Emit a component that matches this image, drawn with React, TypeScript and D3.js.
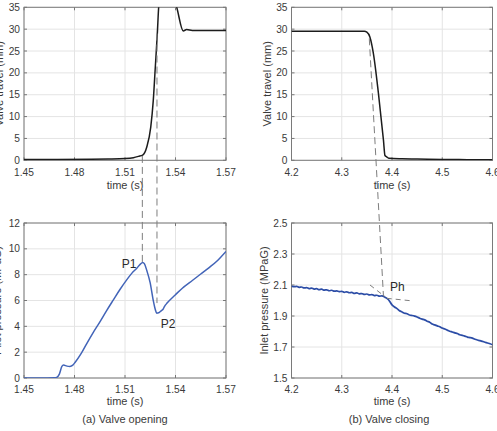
import React, { useEffect, useRef } from 'react';
import * as d3 from 'd3';

// tick values
const openTicksX = [1.45, 1.48, 1.51, 1.54, 1.57];
const closeTicksX = [4.2, 4.3, 4.4, 4.5, 4.6];
const travelTicksY = [0, 5, 10, 15, 20, 25, 30, 35];
const pilotTicksY = [0, 2, 4, 6, 8, 10, 12];
const inletTicksY = [1.5, 1.7, 1.9, 2.1, 2.3, 2.5];

// (a) valve opening: travel (mm)
const openTravelTime = [1.45, 1.47, 1.49, 1.5, 1.51, 1.515, 1.518, 1.5205, 1.5229, 1.5253, 1.5268, 1.528, 1.5292, 1.53, 1.5305, 1.535, 1.5407, 1.5446, 1.5466, 1.55, 1.57];
const openTravel = [0.2, 0.2, 0.25, 0.3, 0.4, 0.6, 0.9, 1.2, 3.0, 7.6, 13.7, 21.3, 29.0, 35, 37, 41, 35, 29.6, 29.9, 29.7, 29.7];

// (a) valve opening: pilot pressure (MPaG)
const openPressTime = [1.45, 1.46, 1.468, 1.4694, 1.471, 1.4725, 1.4735, 1.4755, 1.4773, 1.479, 1.4803, 1.484, 1.4872, 1.491, 1.4951, 1.499, 1.5031, 1.507, 1.511, 1.514, 1.517, 1.519, 1.5205, 1.5215, 1.523, 1.5249, 1.5268, 1.528, 1.5288, 1.53, 1.5315, 1.5325, 1.5335, 1.535, 1.54, 1.545, 1.55, 1.555, 1.56, 1.565, 1.57];
const pilotPressure = [0, 0, 0.02, 0.05, 0.3, 0.9, 1.0, 0.92, 0.9, 1.0, 1.2, 1.9, 2.65, 3.5, 4.35, 5.2, 6.05, 6.85, 7.6, 8.1, 8.5, 8.8, 8.95, 8.85, 8.3, 7.4, 6.0, 5.3, 5.02, 5.05, 5.2, 5.3, 5.55, 5.8, 6.45, 7.05, 7.55, 8.05, 8.55, 9.1, 9.8];

// (b) valve closing: travel (mm)
const closeTravelTime = [4.2, 4.3, 4.345, 4.35, 4.356, 4.363, 4.373, 4.383, 4.386, 4.39, 4.394, 4.42, 4.45, 4.5, 4.55, 4.6];
const closeTravel = [29.5, 29.5, 29.5, 29.3, 28.2, 24.4, 15.3, 4.6, 1.1, 0.75, 0.45, 0.35, 0.3, 0.2, 0.15, 0.1];

// (b) valve closing: inlet pressure (MPaG)
const closePressTime = [4.2, 4.205, 4.21, 4.215, 4.22, 4.225, 4.23, 4.235, 4.24, 4.245, 4.25, 4.255, 4.26, 4.265, 4.27, 4.275, 4.28, 4.285, 4.29, 4.295, 4.3, 4.305, 4.31, 4.315, 4.32, 4.325, 4.33, 4.335, 4.34, 4.345, 4.35, 4.355, 4.36, 4.365, 4.37, 4.375, 4.38, 4.386, 4.393, 4.4, 4.405, 4.41, 4.415, 4.42, 4.425, 4.43, 4.435, 4.44, 4.445, 4.45, 4.455, 4.46, 4.465, 4.47, 4.475, 4.48, 4.485, 4.49, 4.495, 4.5, 4.505, 4.51, 4.515, 4.52, 4.525, 4.53, 4.535, 4.54, 4.545, 4.55, 4.555, 4.56, 4.565, 4.57, 4.575, 4.58, 4.585, 4.59, 4.595, 4.6];
const inletPressure = [2.094, 2.089, 2.091, 2.085, 2.087, 2.081, 2.083, 2.077, 2.080, 2.074, 2.076, 2.070, 2.073, 2.067, 2.069, 2.063, 2.066, 2.060, 2.062, 2.057, 2.059, 2.053, 2.056, 2.050, 2.052, 2.046, 2.049, 2.043, 2.045, 2.039, 2.042, 2.036, 2.038, 2.032, 2.034, 2.028, 2.030, 2.021, 2.005, 1.972, 1.958, 1.948, 1.934, 1.926, 1.918, 1.915, 1.906, 1.903, 1.899, 1.893, 1.886, 1.880, 1.875, 1.866, 1.860, 1.848, 1.843, 1.836, 1.831, 1.822, 1.816, 1.809, 1.802, 1.797, 1.791, 1.787, 1.779, 1.775, 1.770, 1.764, 1.761, 1.757, 1.750, 1.745, 1.741, 1.736, 1.731, 1.726, 1.721, 1.715];

const font = '"Liberation Sans", Arial, sans-serif';
const textColor = '#3a3a3a';

interface Panel {
  key: string;
  left: number; right: number; top: number; bottom: number;
  xDomain: [number, number]; yDomain: [number, number];
  xTicks: number[]; yTicks: number[];
  yLabel: string; yLabelX: number;
  tickDy: number; xLabelY: number;
  xs: number[]; ys: number[];
  color: string; width: number;
}

const App: React.FC = () => {
  const ref = useRef<SVGSVGElement>(null);

  useEffect(() => {
    if (!ref.current) return;
    const svg = d3.select(ref.current);
    svg.selectAll('*').remove();

    const panels: Panel[] = [
      { key: 'a1', left: 24, right: 226, top: 7.3, bottom: 160.3, xDomain: [1.45, 1.57], yDomain: [0, 35],
        xTicks: openTicksX, yTicks: travelTicksY, yLabel: 'Valve travel (mm)', yLabelX: -1,
        tickDy: 12.5, xLabelY: 185, xs: openTravelTime, ys: openTravel, color: '#1c1c1c', width: 1.5 },
      { key: 'b1', left: 291.5, right: 492.5, top: 7.3, bottom: 160.3, xDomain: [4.2, 4.6], yDomain: [0, 35],
        xTicks: closeTicksX, yTicks: travelTicksY, yLabel: 'Valve travel (mm)', yLabelX: 267,
        tickDy: 12.5, xLabelY: 185, xs: closeTravelTime, ys: closeTravel, color: '#1c1c1c', width: 1.5 },
      { key: 'a2', left: 24, right: 226, top: 223, bottom: 378, xDomain: [1.45, 1.57], yDomain: [0, 12],
        xTicks: openTicksX, yTicks: pilotTicksY, yLabel: 'Pilot pressure (MPaG)', yLabelX: -3,
        tickDy: 11.5, xLabelY: 401, xs: openPressTime, ys: pilotPressure, color: '#4264b8', width: 1.5 },
      { key: 'b2', left: 291.5, right: 492.5, top: 223, bottom: 378, xDomain: [4.2, 4.6], yDomain: [1.5, 2.5],
        xTicks: closeTicksX, yTicks: inletTicksY, yLabel: 'Inlet pressure (MPaG)', yLabelX: 264,
        tickDy: 11.5, xLabelY: 401, xs: closePressTime, ys: inletPressure, color: '#2b4ca6', width: 1.7 },
    ];

    const scales: Record<string, { x: d3.ScaleLinear<number, number>, y: d3.ScaleLinear<number, number> }> = {};
    const defs = svg.append('defs');

    panels.forEach(p => {
      const x = d3.scaleLinear().domain(p.xDomain).range([p.left, p.right]);
      const y = d3.scaleLinear().domain(p.yDomain).range([p.bottom, p.top]);
      scales[p.key] = { x, y };
      const g = svg.append('g');

      defs.append('clipPath').attr('id', `clip-${p.key}`)
        .append('rect')
        .attr('x', p.left).attr('y', p.top)
        .attr('width', p.right - p.left).attr('height', p.bottom - p.top);

      g.append('rect')
        .attr('x', p.left).attr('y', p.top)
        .attr('width', p.right - p.left).attr('height', p.bottom - p.top)
        .attr('fill', '#fff');

      // grid
      g.selectAll('.gx').data(p.xTicks).enter().append('line')
        .attr('x1', d => x(d)).attr('x2', d => x(d))
        .attr('y1', p.top).attr('y2', p.bottom)
        .attr('stroke', '#e4e4e4').attr('stroke-width', 1);
      g.selectAll('.gy').data(p.yTicks).enter().append('line')
        .attr('x1', p.left).attr('x2', p.right)
        .attr('y1', d => y(d)).attr('y2', d => y(d))
        .attr('stroke', '#e4e4e4').attr('stroke-width', 1);

      // inward ticks on all four sides
      const tk = 3;
      p.xTicks.forEach(d => {
        g.append('line').attr('x1', x(d)).attr('x2', x(d)).attr('y1', p.bottom).attr('y2', p.bottom - tk)
          .attr('stroke', '#777');
        g.append('line').attr('x1', x(d)).attr('x2', x(d)).attr('y1', p.top).attr('y2', p.top + tk)
          .attr('stroke', '#777');
      });
      p.yTicks.forEach(d => {
        g.append('line').attr('x1', p.left).attr('x2', p.left + tk).attr('y1', y(d)).attr('y2', y(d))
          .attr('stroke', '#777');
        g.append('line').attr('x1', p.right).attr('x2', p.right - tk).attr('y1', y(d)).attr('y2', y(d))
          .attr('stroke', '#777');
      });

      g.append('rect')
        .attr('x', p.left).attr('y', p.top)
        .attr('width', p.right - p.left).attr('height', p.bottom - p.top)
        .attr('fill', 'none').attr('stroke', '#7a7a7a').attr('stroke-width', 1);

      // tick labels
      g.selectAll('.tx').data(p.xTicks).enter().append('text')
        .attr('x', d => x(d)).attr('y', p.bottom + p.tickDy)
        .attr('text-anchor', 'middle').attr('dominant-baseline', 'central')
        .attr('font-family', font).attr('font-size', 10.2).attr('fill', textColor)
        .text(d => String(d));
      g.selectAll('.ty').data(p.yTicks).enter().append('text')
        .attr('x', p.left - 4).attr('y', d => y(d))
        .attr('text-anchor', 'end').attr('dominant-baseline', 'central')
        .attr('font-family', font).attr('font-size', 10.2).attr('fill', textColor)
        .text(d => String(d));

      g.append('text')
        .attr('x', (p.left + p.right) / 2).attr('y', p.xLabelY)
        .attr('text-anchor', 'middle').attr('dominant-baseline', 'central')
        .attr('font-family', font).attr('font-size', 11).attr('fill', textColor)
        .text('time (s)');

      g.append('text')
        .attr('transform', `translate(${p.yLabelX},${(p.top + p.bottom) / 2}) rotate(-90)`)
        .attr('text-anchor', 'middle').attr('dominant-baseline', 'central')
        .attr('font-family', font).attr('font-size', 11).attr('fill', textColor)
        .text(p.yLabel);

      const line = d3.line<number>()
        .x((_, i) => x(p.xs[i]))
        .y(d => y(d))
        .curve(d3.curveMonotoneX);

      g.append('path')
        .datum(p.ys)
        .attr('clip-path', `url(#clip-${p.key})`)
        .attr('d', line)
        .attr('fill', 'none')
        .attr('stroke', p.color)
        .attr('stroke-width', p.width)
        .attr('stroke-linejoin', 'round');
    });

    // dashed guide lines linking travel and pressure events
    const dash = svg.append('g')
      .attr('fill', 'none').attr('stroke', '#7d7d7d')
      .attr('stroke-width', 1).attr('stroke-dasharray', '7,4');
    const a1 = scales.a1, a2 = scales.a2, b1 = scales.b1, b2 = scales.b2;

    // opening: start of lift -> P1, full lift -> P2
    const openEvents = [
      { t: 1.5203, travel: 1.0, press: 8.95 },
      { t: 1.529, travel: 29, press: 5.8 },
    ];
    openEvents.forEach(e => {
      dash.append('line')
        .attr('x1', a1.x(e.t)).attr('y1', a1.y(e.travel))
        .attr('x2', a2.x(e.t)).attr('y2', a2.y(e.press));
    });

    // closing: travel slope extended down to Ph
    dash.append('line')
      .attr('x1', b1.x(4.3548)).attr('y1', b1.y(27.9))
      .attr('x2', b2.x(4.383)).attr('y2', b2.y(2.028));

    // tangents around Ph
    const tangents = [
      [[4.3562, 2.1], [4.386, 2.025]],
      [[4.3895, 2.014], [4.4358, 1.999]],
    ];
    tangents.forEach(([s, e]) => {
      dash.append('line')
        .attr('x1', b2.x(s[0])).attr('y1', b2.y(s[1]))
        .attr('x2', b2.x(e[0])).attr('y2', b2.y(e[1]))
        .attr('stroke-dasharray', '5,4');
    });

    const label = (x: number, y: number, s: string, anchor: string) =>
      svg.append('text')
        .attr('x', x).attr('y', y)
        .attr('text-anchor', anchor)
        .attr('font-family', font).attr('font-size', 12).attr('fill', '#2a2a2a')
        .text(s);

    label(a2.x(1.5203) - 6, a2.y(8.95) + 6, 'P1', 'end');
    label(a2.x(1.5288) + 4, a2.y(5.02) + 15, 'P2', 'start');
    label(b2.x(4.386) + 5, b2.y(2.021) - 6, 'Ph', 'start');

    // captions
    svg.append('text')
      .attr('x', 125).attr('y', 419)
      .attr('text-anchor', 'middle').attr('dominant-baseline', 'central')
      .attr('font-family', font).attr('font-size', 11).attr('fill', textColor)
      .text('(a) Valve opening');
    svg.append('text')
      .attr('x', 389).attr('y', 419)
      .attr('text-anchor', 'middle').attr('dominant-baseline', 'central')
      .attr('font-family', font).attr('font-size', 11).attr('fill', textColor)
      .text('(b) Valve closing');
  }, []);

  return (
    <svg
      ref={ref}
      width={497}
      height={431}
      style={{ position: 'absolute', left: 0, top: 0, background: '#fff', overflow: 'hidden' }}
    />
  );
};

export default App;
